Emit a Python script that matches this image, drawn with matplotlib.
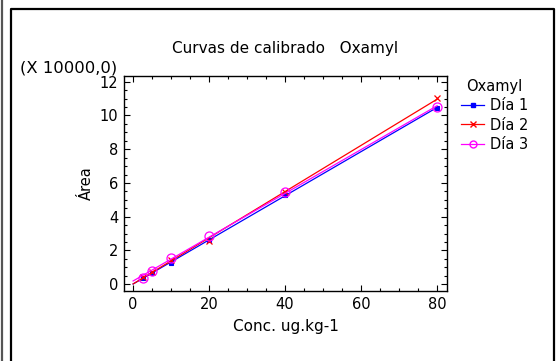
import matplotlib
matplotlib.use('Agg')
import matplotlib.pyplot as plt
import numpy as np
from matplotlib.ticker import MultipleLocator
from matplotlib.lines import Line2D

plt.rcParams['font.family'] = ['DejaVu Sans']

conc = [2.5, 5, 10, 20, 40, 80]
dia1 = [0.35, 0.69, 1.28, 2.62, 5.29, 10.46]
dia2 = [0.42, 0.75, 1.45, 2.58, 5.45, 11.02]
dia3 = [0.39, 0.79, 1.58, 2.88, 5.45, 10.52]
series = ['Día 1', 'Día 2', 'Día 3']
colors = ['#0000ff', '#ff0000', '#ff00ff']
markers = ['s', 'x', 'o']

W, H = 560, 361
fig = plt.figure(figsize=(W / 100, H / 100), dpi=100)

# outer frame
fig.add_artist(Line2D([1.5 / W, 1.5 / W], [0, 1], color='#555555', lw=1.6))
fig.add_artist(Line2D([11 / W, 11 / W, 554 / W, 554 / W], [0, 1 - 9 / H, 1 - 9 / H, 0],
                      color='black', lw=1.6))

ax = fig.add_axes([124 / W, (H - 291) / H, 323 / W, 215 / H])

# regression line per day + measured points
xx = np.array([0, 80])
for ys, lbl, c, m in zip([dia1, dia2, dia3], series, colors, markers):
    k, b = np.polyfit(conc, ys, 1)
    ax.plot(xx, k * xx + b, color=c, lw=0.9)
    if m == 'o':
        ax.plot(conc, ys, linestyle='none', marker=m, ms=6.5, mfc='none', mec=c, mew=0.9)
    elif m == 'x':
        ax.plot(conc, ys, linestyle='none', marker=m, ms=5, color=c, mew=0.9)
    else:
        ax.plot(conc, ys, linestyle='none', marker=m, ms=3.5, color=c, mew=0.8)

ax.set_xlim(-2.4, 82.6)
ax.set_ylim(-0.4, 12.34)
ax.xaxis.set_major_locator(MultipleLocator(20))
ax.xaxis.set_minor_locator(MultipleLocator(5))
ax.yaxis.set_major_locator(MultipleLocator(2))
ax.yaxis.set_minor_locator(MultipleLocator(0.5))
ax.tick_params(which='both', direction='in', top=True, right=True, labelsize=10.5, width=0.8)
ax.tick_params(which='major', length=4, pad=4)
ax.tick_params(which='minor', length=2)
for s in ax.spines.values():
    s.set_linewidth(1.0)

ax.set_title('Curvas de calibrado   Oxamyl', fontsize=11, pad=16.5)
ax.set_xlabel('Conc. ug.kg-1', fontsize=11, labelpad=5)
ax.set_ylabel('Área', fontsize=10.5, labelpad=4)
fig.text(20 / W, 1 - 68 / H, '(X 10000,0)', fontsize=11.8, va='center', ha='left')

handles = [Line2D([0], [0], color=c, lw=0.9, marker=m, ms=5 if m == 'o' else (4 if m == 'x' else 3),
                  mfc='none' if m == 'o' else c, mec=c) for c, m in zip(colors, markers)]
leg = fig.legend(handles, series, title='Oxamyl', loc='upper left',
                 bbox_to_anchor=(455 / W, 1 - 73 / H), frameon=False, fontsize=10.5,
                 title_fontsize=10.5, handlelength=1.6, handletextpad=0.4,
                 labelspacing=0.3, borderaxespad=0)

fig.savefig('out.png', dpi=100)
